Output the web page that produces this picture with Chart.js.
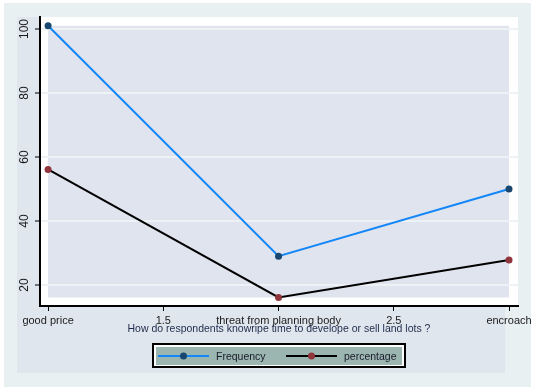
<!DOCTYPE html>
<html>
<head>
<meta charset="utf-8">
<script src="https://cdn.jsdelivr.net/npm/chart.js@4.4.1/dist/chart.umd.min.js"></script>
<style>
  html, body { margin: 0; padding: 0; background: #fff; }
  canvas { display: block; }
</style>
</head>
<body>
<canvas id="myChart" width="536" height="392"></canvas>
<script>
// Chart data
const categories = ['good price', 'threat from planning body', 'encroach'];
const xPositions = [1, 2, 3];
const frequency = [101, 29, 50];
const percentage = [56.1, 16.1, 27.8];
const xTicks = [1, 1.5, 2, 2.5, 3];
const yTicks = [20, 40, 60, 80, 100];
const seriesNames = ['Frequency', 'percentage'];

const FONT = '"Liberation Sans", Arial, sans-serif';

function toPoints(values) {
    return values.map((v, i) => ({ x: xPositions[i], y: v }));
}

// Backgrounds: outer frame, graph region, plot region and inner shaded area
const backgroundPlugin = {
    id: 'stataBackground',
    beforeDraw(chart) {
        const { ctx, chartArea, scales } = chart;
        ctx.save();
        ctx.fillStyle = '#ffffff';
        ctx.fillRect(0, 0, chart.width, chart.height);
        ctx.fillStyle = '#e8f0f2';
        ctx.fillRect(4, 3, 527, 384);
        ctx.fillStyle = '#e0e6ee';
        ctx.fillRect(17, 17, 488, 356);
        ctx.fillStyle = '#ffffff';
        ctx.fillRect(chartArea.left, chartArea.top, chartArea.right - chartArea.left, chartArea.bottom - chartArea.top);

        const allValues = frequency.concat(percentage);
        const x0 = scales.x.getPixelForValue(Math.min(...xPositions));
        const x1 = scales.x.getPixelForValue(Math.max(...xPositions));
        const y0 = scales.y.getPixelForValue(Math.max(...allValues));
        const y1 = scales.y.getPixelForValue(Math.min(...allValues));
        ctx.fillStyle = '#e0e4ef';
        ctx.fillRect(x0, y0, x1 - x0, y1 - y0);
        ctx.restore();
    }
};

// Legend box drawn below the axis title
const legendPlugin = {
    id: 'stataLegend',
    afterDraw(chart) {
        const { ctx } = chart;
        ctx.save();
        ctx.fillStyle = '#ffffff';
        ctx.fillRect(153, 344, 252, 23);
        ctx.strokeStyle = '#000000';
        ctx.lineWidth = 2;
        ctx.strokeRect(153, 344, 252, 23);
        ctx.fillStyle = '#9bb5b0';
        ctx.fillRect(156, 347, 246, 18);

        chart.data.datasets.forEach((ds, i) => {
            const x0 = 158 + i * 128;
            const y = 356;
            ctx.strokeStyle = ds.borderColor;
            ctx.lineWidth = 2;
            ctx.beginPath();
            ctx.moveTo(x0, y);
            ctx.lineTo(x0 + 51, y);
            ctx.stroke();
            ctx.fillStyle = ds.pointBackgroundColor;
            ctx.beginPath();
            ctx.arc(x0 + 25.5, y, 3.5, 0, Math.PI * 2);
            ctx.fill();
            ctx.fillStyle = '#1a1a2a';
            ctx.font = '10.5px ' + FONT;
            ctx.textBaseline = 'middle';
            ctx.textAlign = 'left';
            ctx.fillText(ds.label, x0 + 58, y + 1);
        });
        ctx.restore();
    }
};

function createChart() {
    const ctx = document.getElementById('myChart').getContext('2d');
    new Chart(ctx, {
        type: 'line',
        data: {
            datasets: [{
                label: seriesNames[0],
                data: toPoints(frequency),
                borderColor: '#1386f8',
                borderWidth: 2,
                pointBackgroundColor: '#1a476f',
                pointBorderColor: '#1a476f',
                pointRadius: 3.5,
                pointBorderWidth: 0,
                tension: 0
            }, {
                label: seriesNames[1],
                data: toPoints(percentage),
                borderColor: '#000000',
                borderWidth: 2,
                pointBackgroundColor: '#90353b',
                pointBorderColor: '#90353b',
                pointRadius: 3.5,
                pointBorderWidth: 0,
                tension: 0
            }]
        },
        options: {
            responsive: false,
            animation: false,
            clip: false,
            layout: { padding: { left: 0, top: 17, right: 18, bottom: 56.7 } },
            plugins: {
                legend: { display: false },
                tooltip: { enabled: false }
            },
            scales: {
                x: {
                    type: 'linear',
                    min: 0.965,
                    max: 3.039,
                    afterBuildTicks(scale) {
                        scale.ticks = xTicks.map(v => ({ value: v }));
                    },
                    afterFit(scale) { scale.height = 29.3; },
                    grid: {
                        drawOnChartArea: false,
                        drawTicks: true,
                        tickLength: 5,
                        tickColor: '#000000',
                        tickWidth: 1
                    },
                    border: { color: '#000000', width: 2 },
                    ticks: {
                        autoSkip: false,
                        maxRotation: 0,
                        padding: 3,
                        color: '#1a1a1a',
                        font: { family: FONT, size: 11 },
                        callback(value) {
                            const idx = xPositions.indexOf(value);
                            return idx >= 0 ? categories[idx] : String(value);
                        }
                    },
                    title: {
                        display: true,
                        text: 'How do respondents knowripe time to develope or sell land lots ?',
                        color: '#1f2b4a',
                        font: { family: FONT, size: 10.5 },
                        padding: { top: 0, bottom: 0 }
                    }
                },
                y: {
                    type: 'linear',
                    min: 13.44,
                    max: 103.75,
                    afterBuildTicks(scale) {
                        scale.ticks = yTicks.map(v => ({ value: v }));
                    },
                    afterFit(scale) { scale.width = 40; },
                    grid: {
                        color: '#eef2f6',
                        lineWidth: 2,
                        drawTicks: true,
                        tickLength: 5,
                        tickColor: '#000000',
                        tickWidth: 1
                    },
                    border: { color: '#000000', width: 2 },
                    ticks: {
                        autoSkip: false,
                        minRotation: 90,
                        maxRotation: 90,
                        crossAlign: 'center',
                        padding: 0,
                        color: '#1a1a1a',
                        font: { family: FONT, size: 12 }
                    }
                }
            }
        },
        plugins: [backgroundPlugin, legendPlugin]
    });
}

createChart();
</script>
</body>
</html>
